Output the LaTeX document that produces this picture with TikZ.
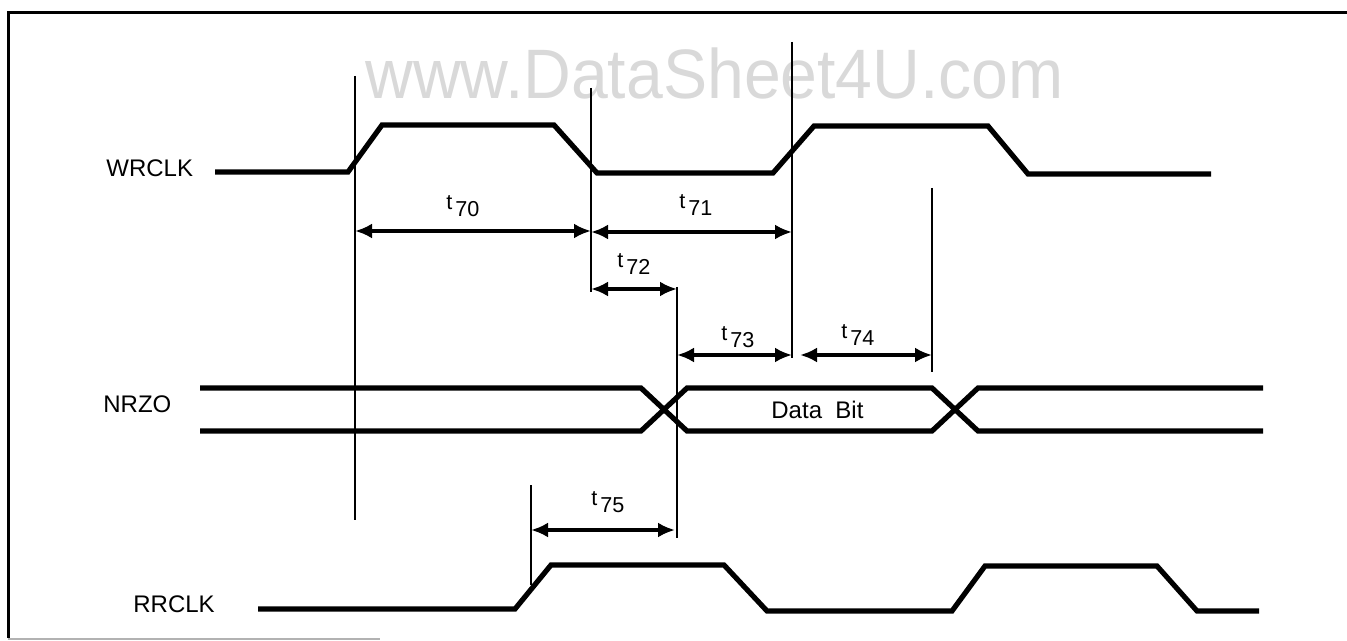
\documentclass[tikz,border=0pt]{standalone}
\usepackage{fontspec}
\setmainfont{Liberation Sans}
\usetikzlibrary{arrows.meta}

% t with lowered index
\newcommand{\tidx}[1]{t\kern1.5pt\raisebox{-3.5pt}{#1}}

\begin{document}
\begin{tikzpicture}[x=0.5pt, y=-0.5pt,
    sig/.style={line width=2.6pt},
    vline/.style={line width=0.8pt},
    dim/.style={line width=2.3pt, {Latex[length=8.5pt,width=7.5pt]}-{Latex[length=8.5pt,width=7.5pt]}},
    signame/.style={font=\fontsize{12}{14}\selectfont, inner sep=0pt, anchor=base west},
    tname/.style={font=\fontsize{10.8}{12}\selectfont, inner sep=0pt, anchor=base west}]
    \useasboundingbox (0,0) rectangle (1347,641);

    % Rahmen
    \draw[line width=1.5pt] (1347,13) -- (8,13) -- (8,638);
    \draw[gray!60, line width=0.6pt] (8,639) -- (380,639);

    % Wasserzeichen
    \node[anchor=base west, inner sep=0pt, text=gray!30, xscale=0.945,
          font=\fontsize{35}{40}\selectfont] (wm) at (365,99) {www.DataSheet4U.com};

    % Hilfslinien
    \draw[vline] (355,76) -- (355,520);
    \draw[vline] (591,88) -- (591,292);
    \draw[vline] (792,42) -- (792,358);
    \draw[vline] (932,188) -- (932,372);
    \draw[vline] (677,287) -- (677,538);
    \draw[vline] (531,485) -- (531,585);

    % Signale
    \node[signame] (wr) at (106,177) {WRCLK};
    \draw[sig] (215,172) -- (348,172) -- (382,125) -- (554,125) -- (597,173)
        -- (773,173) -- (814,126) -- (988,126) -- (1028,174) -- (1211,174);

    \node[signame] (nrzo) at (103,412) {NRZO};
    \draw[sig] (200,388) -- (641,388) -- (687,431) -- (932,431) -- (978,388) -- (1263,388);
    \draw[sig] (200,431) -- (641,431) -- (687,388) -- (932,388) -- (978,431) -- (1263,431);
    \node[signame] (bit) at (771,418) {Data\ \ Bit};

    \node[signame] (rr) at (133,612) {RRCLK};
    \draw[sig] (258,609) -- (515,609) -- (551,565) -- (724,565) -- (767,611)
        -- (952,611) -- (985,566) -- (1157,566) -- (1197,611) -- (1259,611);

    % Zeiten
    \draw[dim] (355,231) -- (591,231);
    \draw[dim] (591,232) -- (792,232);
    \draw[dim] (591,289) -- (677,289);
    \draw[dim] (677,355) -- (792,355);
    \draw[dim] (800,355) -- (932,355);
    \draw[dim] (531,530) -- (675,530);

    \node[tname] (t70) at (446,210) {\tidx{70}};
    \node[tname] (t71) at (679,209) {\tidx{71}};
    \node[tname] (t72) at (617,268) {\tidx{72}};
    \node[tname] (t73) at (721,340) {\tidx{73}};
    \node[tname] (t74) at (841,338) {\tidx{74}};
    \node[tname] (t75) at (591,505) {\tidx{75}};
\end{tikzpicture}
\end{document}
